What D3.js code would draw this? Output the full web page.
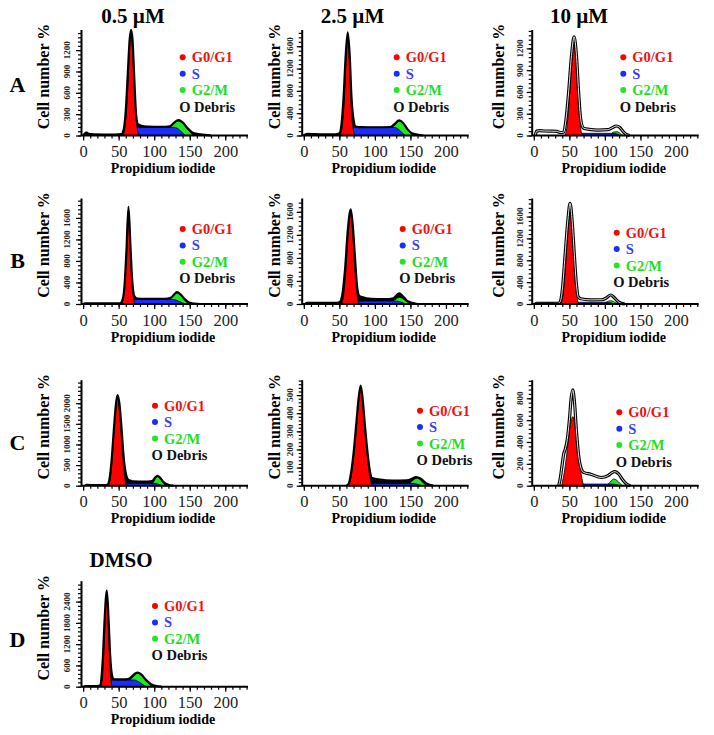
<!DOCTYPE html>
<html lang="en">
<head>
<meta charset="utf-8">
<title>Cell cycle histograms</title>
<script src="https://cdn.jsdelivr.net/npm/d3@7"></script>
<style>
  body {margin: 0; background: #fff;}
  svg {display: block;}
  text {font-family: "Liberation Serif", "Times New Roman", serif;}
  .axis path, .axis line {stroke: #000;}
  .axis path {stroke-width: 2;}
  .axis line {stroke-width: 1.2;}
</style>
</head>
<body>
<script>
// labels
var colTitles = ["0.5 µM", "2.5 µM", "10 µM"];
var rowLabels = ["A", "B", "C", "D"];
var phaseNames = ["G0/G1", "S", "G2/M", "O Debris"];
var xTicks = [0, 50, 100, 150, 200];

// y tick values per panel
var yTicksA1 = [0, 300, 600, 900, 1200];
var yTicksA2 = [0, 400, 800, 1200, 1600];
var yTicksA3 = [0, 300, 600, 900, 1200];
var yTicksB1 = [0, 400, 800, 1200, 1600];
var yTicksB2 = [0, 400, 800, 1200, 1600];
var yTicksB3 = [0, 400, 800, 1200, 1600];
var yTicksC1 = [0, 500, 1000, 1500, 2000];
var yTicksC2 = [0, 100, 200, 300, 400, 500];
var yTicksC3 = [0, 200, 400, 600, 800];
var yTicksD = [0, 600, 1200, 1800, 2400];

// [channel, count]
var histA1 = [[0,0],[2,25],[5,40],[8,22],[15,16],[30,14],[45,14],[54,20],[57,80],[60,350],[63,900],[65.5,1350],[67.5,1486],[69.5,1350],[72,800],[74.5,300],[77,160],[82,135],[90,125],[110,122],[122,130],[128,180],[134,215],[140,185],[147,100],[154,40],[162,20],[172,10],[180,0]];
var g1A1 = [[56,0],[59,120],[62,500],[65,1150],[67.5,1440],[70,1150],[73,480],[76,110],[79,0]];
var sA1 = [[61,0],[64,105],[68,115],[128,115],[134,90],[140,35],[144,0]];
var g2A1 = [[118,0],[121,115],[126,150],[130,190],[134,205],[138,190],[143,140],[148,80],[152,30],[156,0]];

var histA2 = [[0,0],[2,20],[5,30],[15,25],[30,22],[45,22],[50,40],[53,200],[56,700],[59,1450],[61.8,1850],[64.5,1450],[67,700],[70,280],[73,160],[80,150],[100,148],[122,152],[128,210],[134,270],[140,220],[146,110],[152,40],[160,15],[168,0]];
var g1A2 = [[51,0],[54,150],[57,650],[60,1500],[61.8,1790],[63.5,1500],[66,650],[69,150],[72,0]];
var sA2 = [[62,0],[66,140],[70,145],[128,145],[134,100],[140,30],[143,0]];
var g2A2 = [[122,0],[125,145],[129,200],[134,260],[139,225],[145,130],[150,50],[154,0]];

var histA3 = [[2,0],[4,60],[8,66],[15,62],[25,60],[32,58],[38,40],[42,45],[45,200],[49,600],[53,1100],[56.6,1360],[60,1100],[63,600],[66,220],[70,100],[78,85],[90,75],[104,80],[110,105],[116,131],[121,110],[126,50],[130,15],[135,0]];
var g1A3 = [[44,0],[47,150],[50,500],[53,1000],[56.6,1290],[60,1000],[63,480],[65.5,140],[68,0]];
var sA3 = [[58,0],[62,30],[108,30],[116,25],[121,0]];
var g2A3 = [[107,0],[110,35],[113,48],[117,52],[120,40],[123,15],[126,0]];

var histB1 = [[0,0],[3,12],[20,10],[40,10],[52,12],[55,60],[58,300],[61,1000],[63.8,1807],[66.5,1100],[69,450],[72,150],[76,100],[90,95],[115,95],[124,120],[129,190],[132,220],[137,180],[143,90],[149,30],[156,8],[165,0]];
var g1B1 = [[54,0],[57,150],[60,700],[63.8,1740],[67,800],[70,200],[73,0]];
var sB1 = [[58,0],[62,80],[66,87],[126,87],[133,60],[140,20],[144,0]];
var g2B1 = [[117,0],[120,88],[125,130],[129,185],[132,212],[136,180],[141,100],[146,30],[150,0]];

var histB2 = [[2,0],[4,22],[15,20],[30,18],[45,18],[50,30],[54,150],[58,600],[62,1300],[66,1644],[69,1350],[72,800],[75,300],[78,140],[82,120],[95,90],[115,85],[126,100],[131,160],[134.5,186],[139,140],[145,60],[152,20],[160,0]];
var g1B2 = [[53,0],[56,150],[59,550],[62.5,1200],[66,1570],[69,1200],[72,550],[75,150],[77,0]];
var sB2 = [[60,0],[64,48],[70,52],[130,52],[136,35],[142,10],[146,0]];
var g2B2 = [[123,0],[126,52],[130,90],[134.5,116],[139,95],[144,50],[148,15],[151,0]];

var histB3 = [[2,0],[4,12],[20,10],[34,12],[37,40],[40,250],[44,900],[48,1550],[51,1844],[54,1500],[57,900],[60,350],[62.5,130],[66,95],[80,75],[95,78],[102,110],[108,165],[113,120],[118,50],[123,12],[128,0]];
var g1B3 = [[38,0],[41,150],[44,600],[47.5,1350],[51,1790],[54,1350],[57,650],[60,200],[63,0]];
var sB3 = [[54,0],[58,28],[62,31],[102,31],[108,22],[113,6],[116,0]];
var g2B3 = [[98,0],[101,30],[104,48],[108,61],[112,45],[116,15],[119,0]];

var histC1 = [[3,0],[5,20],[15,15],[30,12],[34,20],[37,150],[40,600],[43,1300],[46,1950],[48.3,2199],[51,2000],[54,1400],[57,700],[60,300],[63.8,138],[70,105],[85,97],[97,110],[101,190],[104.7,240],[108,200],[112,110],[117,40],[122,10],[127,0]];
var g1C1 = [[35.5,0],[38.5,200],[41.5,800],[45,1700],[48.3,2120],[51.5,1750],[54.5,1000],[57.5,350],[60.5,0]];
var sC1 = [[48,0],[53,55],[58,58],[100,58],[105,40],[110,10],[113,0]];
var g2C1 = [[95,0],[98,60],[101,150],[104.7,235],[108,180],[112,90],[115,25],[118,0]];

var histC2 = [[60,0],[63,10],[66,60],[70,180],[74,350],[77,480],[80,553],[83,470],[86,330],[90,170],[93,80],[96,42],[105,35],[125,28],[145,30],[152,38],[158,48],[164,40],[170,20],[176,6],[182,0]];
var g1C2 = [[62.5,0],[66,40],[70,150],[74,330],[77,460],[80,530],[83,450],[86,320],[89.5,160],[92.5,60],[95.5,0]];
var sC2 = [[78,0],[86,10],[92,13],[152,13],[160,8],[166,0]];
var g2C2 = [[145,0],[149,14],[153,28],[159,41],[164,32],[169,12],[173,0]];

var histC3 = [[35,0],[37,60],[40,200],[42,290],[44,330],[47,420],[50,600],[52.5,800],[54.7,877],[57,780],[60,500],[63,280],[66,170],[70,122],[80,105],[95,75],[105,95],[110,120],[114,128],[119,110],[125,55],[130,18],[136,0]];
var g1C3 = [[39,0],[42,90],[45,220],[48,380],[51,540],[55,632],[58,560],[61,400],[64,230],[67,90],[70,0]];
var sC3 = [[56,0],[60,13],[64,15],[110,15],[116,10],[121,0]];
var g2C3 = [[102,0],[105,18],[109,45],[113,61],[117,48],[121,22],[125,0]];

var histD = [[1,0],[3,20],[10,18],[20,16],[24,40],[26,300],[28,900],[30,1800],[33.4,2708],[36,1800],[38,900],[40,400],[42.7,209],[48,205],[60,205],[66,240],[71,340],[76.5,400],[82,340],[88,200],[95,80],[102,25],[110,0]];
var g1D = [[25,0],[27,200],[29,900],[31,1900],[33.4,2620],[35.5,1800],[37.5,700],[39,200],[40.5,0]];
var sD = [[34,0],[37,180],[40,189],[72,189],[78,140],[84,60],[89,0]];
var g2D = [[62,0],[66,190],[70,270],[76.5,377],[82,330],[88,190],[93,70],[97,0]];

// layout
var colX = [81, 301.7, 531.7];
var rowBase = [135.5, 304, 485.7, 686.7];
var plotH = 106, axisW = 167;
var ylabOff = [37, 27, 33];
var ytickOff = [11, 9, 9];

var panels = [
  {row: 0, col: 0, yMax: 1490, ticks: yTicksA1, hist: histA1, g1: g1A1, s: sA1, g2: g2A1, hollow: false, leg: [101.7, 27.8]},
  {row: 0, col: 1, yMax: 1900, ticks: yTicksA2, hist: histA2, g1: g1A2, s: sA2, g2: g2A2, hollow: false, leg: [95, 27.8]},
  {row: 0, col: 2, yMax: 1460, ticks: yTicksA3, hist: histA3, g1: g1A3, s: sA3, g2: g2A3, hollow: true, leg: [91.6, 27.8]},
  {row: 1, col: 0, yMax: 1970, ticks: yTicksB1, hist: histB1, g1: g1B1, s: sB1, g2: g2B1, hollow: false, leg: [101.7, 31]},
  {row: 1, col: 1, yMax: 1840, ticks: yTicksB2, hist: histB2, g1: g1B2, s: sB2, g2: g2B2, hollow: false, leg: [101, 31]},
  {row: 1, col: 2, yMax: 1940, ticks: yTicksB3, hist: histB3, g1: g1B3, s: sB3, g2: g2B3, hollow: true, leg: [85, 34.7]},
  {row: 2, col: 0, yMax: 2570, ticks: yTicksC1, hist: histC1, g1: g1C1, s: sC1, g2: g2C1, hollow: false, leg: [74, 26]},
  {row: 2, col: 1, yMax: 585, ticks: yTicksC2, hist: histC2, g1: g1C2, s: sC2, g2: g2C2, hollow: false, leg: [118.3, 31]},
  {row: 2, col: 2, yMax: 970, ticks: yTicksC3, hist: histC3, g1: g1C3, s: sC3, g2: g2C3, hollow: true, leg: [87.6, 32.6]},
  {row: 3, col: 0, yMax: 2990, ticks: yTicksD, hist: histD, g1: g1D, s: sD, g2: g2D, hollow: false, leg: [74, 25.3]}
];

var phaseFill = ["#ff0000", "#1a2cff", "#22e622"];
var phaseText = ["#ee1111", "#3b3bff", "#22dd22", "#111"];

var svg = d3.select("body").append("svg")
  .attr("width", 714)
  .attr("height", 735);

// column titles and row letters
svg.selectAll(".ctitle").data(colTitles).enter().append("text")
  .attr("x", function(d, i) { return [133, 352.5, 579][i]; })
  .attr("y", 23)
  .attr("text-anchor", "middle")
  .style("font-size", "21px").style("font-weight", "bold")
  .text(function(d) { return d; });

svg.append("text")
  .attr("x", 121).attr("y", 566.5)
  .attr("text-anchor", "middle")
  .style("font-size", "21px").style("font-weight", "bold")
  .text("DMSO");

svg.selectAll(".rlab").data(rowLabels).enter().append("text")
  .attr("x", 17.5)
  .attr("y", function(d, i) { return [91.7, 268, 450, 646.7][i]; })
  .attr("text-anchor", "middle")
  .style("font-size", "22px").style("font-weight", "bold")
  .text(function(d) { return d; });

panels.forEach(function(p) {
  var ax = colX[p.col], base = rowBase[p.row], top = base - plotH;
  var x = d3.scaleLinear().domain([-3, 232]).range([ax, ax + axisW]);
  var y = d3.scaleLinear().domain([0, p.yMax]).range([base, top]);
  var g = svg.append("g");

  var area = d3.area()
    .x(function(d) { return x(d[0]); })
    .y0(base)
    .y1(function(d) { return y(d[1]); })
    .curve(d3.curveMonotoneX);
  var line = d3.line()
    .x(function(d) { return x(d[0]); })
    .y(function(d) { return y(d[1]); })
    .curve(d3.curveMonotoneX);

  // histogram body
  g.append("path").attr("d", area(p.hist))
    .attr("fill", p.hollow ? "#fff" : "#000");

  // model components: G2/M under S, G0/G1 on top
  [[p.g2, 2], [p.s, 1], [p.g1, 0]].forEach(function(c) {
    g.append("path").attr("d", area(c[0]))
      .attr("fill", phaseFill[c[1]])
      .attr("stroke", "#000").attr("stroke-width", 0.8);
  });

  // histogram outline (double line on the open panels)
  g.append("path").attr("d", line(p.hist))
    .attr("fill", "none").attr("stroke", "#000")
    .attr("stroke-width", p.hollow ? 3.2 : 2.2)
    .attr("stroke-linejoin", "round");
  if (p.hollow) {
    g.append("path").attr("d", line(p.hist))
      .attr("fill", "none").attr("stroke", "#fff")
      .attr("stroke-width", 0.9)
      .attr("stroke-linejoin", "round");
  }

  // x axis
  g.append("g").attr("class", "axis")
    .attr("transform", "translate(0," + base + ")")
    .call(d3.axisBottom(x).tickValues(d3.range(0, 231, 10)).tickSize(3).tickSizeOuter(0).tickFormat(""))
    .call(function(s) { s.select(".domain").remove(); });
  var xa = g.append("g").attr("class", "axis")
    .attr("transform", "translate(0," + base + ")")
    .call(d3.axisBottom(x).tickValues(xTicks).tickSize(5).tickSizeOuter(0).tickPadding(5));
  xa.select(".domain").attr("d", "M" + ax + ",0H" + (ax + axisW));
  xa.selectAll("text")
    .style("font-family", "'Liberation Serif', serif")
    .style("font-size", "16.5px").attr("fill", "#222");

  // y axis
  var step = p.ticks[1] - p.ticks[0];
  g.append("g").attr("class", "axis")
    .attr("transform", "translate(" + ax + ",0)")
    .call(d3.axisLeft(y).tickValues(d3.range(0, p.yMax, step / 5)).tickSize(3).tickSizeOuter(0).tickFormat(""))
    .call(function(s) { s.select(".domain").remove(); });
  g.append("g").attr("class", "axis")
    .attr("transform", "translate(" + ax + ",0)")
    .call(d3.axisLeft(y).tickValues(p.ticks).tickSize(5).tickSizeOuter(0).tickFormat(""));

  g.selectAll(".ytl").data(p.ticks).enter().append("text")
    .attr("transform", function(d) { return "translate(" + (ax - ytickOff[p.col]) + "," + y(d) + ") rotate(-90)"; })
    .attr("text-anchor", "middle")
    .style("font-size", "9px").style("font-weight", "bold")
    .attr("fill", "#222")
    .text(function(d) { return d; });

  // axis titles
  g.append("text")
    .attr("transform", "translate(" + (ax - ylabOff[p.col] + 5) + "," + (base - 59) + ") rotate(-90)")
    .attr("text-anchor", "middle")
    .style("font-size", "16px").style("font-weight", "bold")
    .text("Cell number %");
  g.append("text")
    .attr("x", ax + 82).attr("y", base + 37.5)
    .attr("text-anchor", "middle")
    .style("font-size", "14px").style("font-weight", "bold")
    .text("Propidium iodide");

  // legend
  var lx = ax + p.leg[0], ly = top + p.leg[1];
  phaseNames.forEach(function(name, i) {
    var yy = ly + i * 16.4;
    if (i < 3) {
      g.append("circle").attr("cx", lx).attr("cy", yy).attr("r", 3)
        .attr("fill", phaseFill[i]);
    }
    g.append("text")
      .attr("x", i < 3 ? lx + 9 : lx - 3.5)
      .attr("y", yy + 5)
      .attr("fill", phaseText[i])
      .style("font-size", "14.5px").style("font-weight", "bold")
      .text(name);
  });
});
</script>
</body>
</html>
